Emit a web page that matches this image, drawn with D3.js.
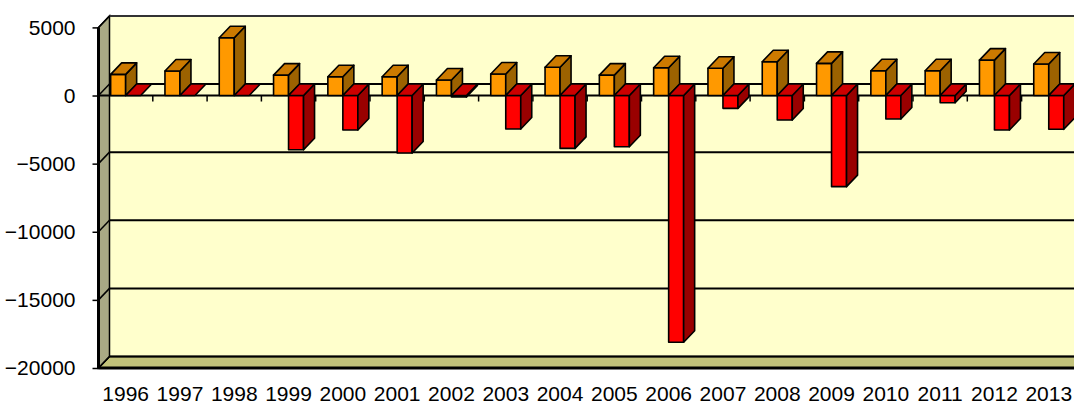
<!DOCTYPE html>
<html>
<head>
<meta charset="UTF-8">
<title>3D columns</title>
<script src="https://cdn.jsdelivr.net/npm/d3@7"></script>
<style>
    body { margin: 0; background: #fff; }
    .axis text {
        font-family: "Liberation Sans", Arial, sans-serif;
        font-size: 21px;
        fill: #000;
    }
</style>
</head>
<body>
<svg id="svg"></svg>
<script>
var WIDTH = 1074;
var HEIGHT = 407;

// data
var years = ["1996","1997","1998","1999","2000","2001","2002","2003","2004",
             "2005","2006","2007","2008","2009","2010","2011","2012","2013"];
var orangeValues = [1550, 1800, 4240, 1500, 1380, 1380, 1140, 1580, 2070,
                    1500, 2040, 2000, 2480, 2360, 1820, 1820, 2600, 2310];
var redValues = [0, 0, 0, -3980, -2530, -4220, -100, -2460, -3880,
                 -3760, -18110, -940, -1800, -6690, -1720, -530, -2530, -2480];
var yTicks = [5000, 0, -5000, -10000, -15000, -20000];

// 3d depth offset
var DX = 11, DY = -11.5;
var LEFT = 98.5, STEP = 54.3;

var svg = d3.select('#svg')
            .attr('width', WIDTH)
            .attr('height', HEIGHT);

var x = d3.scaleBand()
          .domain(years)
          .range([LEFT, LEFT + STEP * years.length]);
var inner = d3.scaleBand()
              .domain(['orange', 'red'])
              .range([0, x.bandwidth()])
              .paddingOuter(0.81);
var y = d3.scaleLinear()
          .domain([-20000, 5000])
          .range([368, 27.4]);

var x0 = x.range()[0];
var x1 = x.range()[1];
var yTop = y(5000), yBot = y(-20000);

function pts(a) {
    return a.map(function(p){ return p[0] + ',' + p[1]; }).join(' ');
}

// back wall
svg.append('polygon')
   .attr('points', pts([[x0+DX, yTop+DY], [x1+DX+20, yTop+DY], [x1+DX+20, yBot+DY], [x0+DX, yBot+DY]]))
   .attr('fill', '#ffffcc');

// floor
svg.append('polygon')
   .attr('points', pts([[x0, yBot], [x0+DX, yBot+DY], [x1+DX+20, yBot+DY], [x1+20, yBot]]))
   .attr('fill', '#c2c27a')
   .attr('stroke', '#000')
   .attr('stroke-width', 1.5);

// left wall
svg.append('polygon')
   .attr('points', pts([[x0, yTop], [x0+DX, yTop+DY], [x0+DX, yBot+DY], [x0, yBot]]))
   .attr('fill', '#a9a985')
   .attr('stroke', '#000')
   .attr('stroke-width', 1.5);

// gridlines on back wall + diagonals across the side wall
yTicks.forEach(function(t){
    svg.append('line')
       .attr('x1', x0 + DX).attr('x2', x1 + DX + 20)
       .attr('y1', y(t) + DY).attr('y2', y(t) + DY)
       .attr('stroke', t === 5000 ? '#333' : '#000')
       .attr('stroke-width', 2);
    svg.append('line')
       .attr('x1', x0).attr('y1', y(t))
       .attr('x2', x0 + DX).attr('y2', y(t) + DY)
       .attr('stroke', '#000')
       .attr('stroke-width', 1.5);
});

// front floor edge
svg.append('line')
   .attr('x1', x0).attr('x2', x1 + 20)
   .attr('y1', yBot).attr('y2', yBot)
   .attr('stroke', '#000')
   .attr('stroke-width', 3);

// category axis line at zero + ticks on boundaries
svg.append('line')
   .attr('x1', x0).attr('x2', x1 + 20)
   .attr('y1', y(0)).attr('y2', y(0))
   .attr('stroke', '#000')
   .attr('stroke-width', 2);
svg.selectAll('line.ctick')
   .data(years.slice(1))
   .enter()
   .append('line')
   .attr('class', 'ctick')
   .attr('x1', function(d){ return x(d); })
   .attr('x2', function(d){ return x(d); })
   .attr('y1', y(0))
   .attr('y2', y(0) + 6)
   .attr('stroke', '#000')
   .attr('stroke-width', 1.5);

// bars
var colors = {
    orange: {front: '#ff9900', top: '#cc7a00', side: '#9c6200'},
    red:    {front: '#ff0000', top: '#cc0000', side: '#990000'}
};
var bars = [];
years.forEach(function(yr, i){
    bars.push({year: yr, s: 'orange', v: orangeValues[i]});
    bars.push({year: yr, s: 'red', v: redValues[i]});
});

var g = svg.selectAll('g.bar')
           .data(bars)
           .enter()
           .append('g')
           .attr('class', 'bar')
           .attr('stroke', '#000')
           .attr('stroke-width', 1.6)
           .attr('stroke-linejoin', 'round');

g.each(function(d){
    var el = d3.select(this);
    var bx = x(d.year) + inner(d.s);
    var w = inner.bandwidth();
    var t = y(Math.max(0, d.v));
    var b = y(Math.min(0, d.v));
    var c = colors[d.s];
    if (b - t > 0.5) {
        el.append('rect')
          .attr('x', bx).attr('y', t)
          .attr('width', w).attr('height', b - t)
          .attr('fill', c.front);
        el.append('polygon')
          .attr('points', pts([[bx+w, t], [bx+w+DX, t+DY], [bx+w+DX, b+DY], [bx+w, b]]))
          .attr('fill', c.side);
    }
    el.append('polygon')
      .attr('points', pts([[bx, t], [bx+w, t], [bx+w+DX, t+DY], [bx+DX, t+DY]]))
      .attr('fill', c.top);
});

// value axis
var yAxis = d3.axisLeft(y)
              .tickValues(yTicks)
              .tickSize(6)
              .tickPadding(17)
              .tickFormat(d3.format('d'));
var ya = svg.append('g')
            .attr('class', 'axis')
            .attr('transform', 'translate(' + x0 + ',0)')
            .call(yAxis);
ya.select('.domain').remove();
ya.selectAll('line').attr('stroke', '#000').attr('stroke-width', 1.5);

svg.append('line')
   .attr('x1', x0).attr('x2', x0)
   .attr('y1', yTop).attr('y2', yBot)
   .attr('stroke', '#000')
   .attr('stroke-width', 3);

// category labels
var xAxis = d3.axisBottom(x)
              .tickSize(0)
              .tickPadding(0);
var xa = svg.append('g')
            .attr('class', 'axis')
            .attr('transform', 'translate(0,386)')
            .call(xAxis);
xa.select('.domain').remove();
</script>
</body>
</html>
